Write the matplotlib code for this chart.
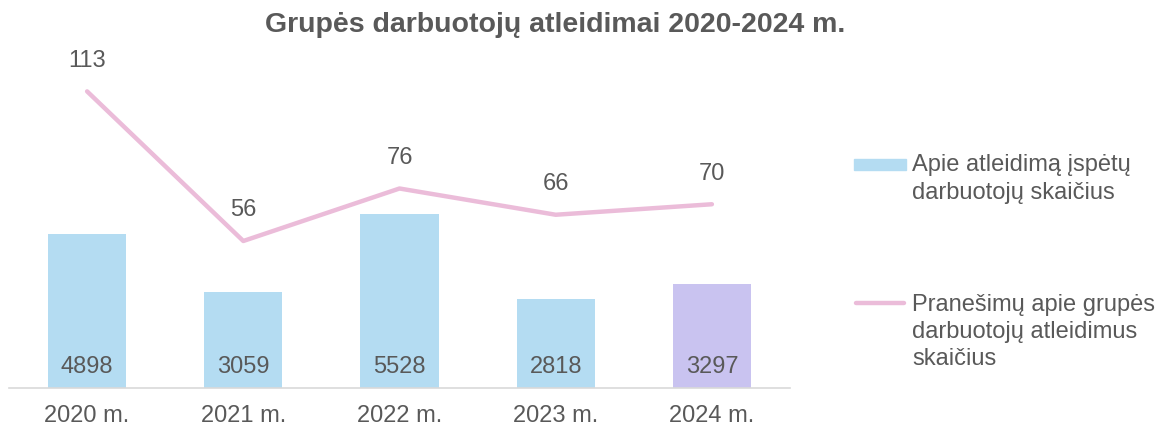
import matplotlib
matplotlib.use("Agg")
import matplotlib.pyplot as plt
from matplotlib.patches import Rectangle
from matplotlib.lines import Line2D

plt.rcParams['font.family'] = ['Liberation Sans', 'DejaVu Sans']

years = ["2020 m.", "2021 m.", "2022 m.", "2023 m.", "2024 m."]
warned_employees = [4898, 3059, 5528, 2818, 3297]
notices = [113, 56, 76, 66, 70]

bar_label = "Apie atleidimą įspėtų\ndarbuotojų skaičius"
line_label = "Pranešimų apie grupės\ndarbuotojų atleidimus\nskaičius"
title = "Grupės darbuotojų atleidimai 2020-2024 m."

text_color = "#595959"
bar_colors = ["#B4DCF2", "#B4DCF2", "#B4DCF2", "#B4DCF2", "#C9C3F0"]
line_color = "#EBBCD9"
fs = 17

W, H = 1173, 430
fig = plt.figure(figsize=(W / 100, H / 100), dpi=100)
ax = fig.add_axes([9 / W, (H - 388) / H, (790 - 9) / W, (388 - 73) / H])
ax2 = ax.twinx()

x = list(range(len(years)))
ax.bar(x, warned_employees, width=0.5, color=bar_colors, zorder=2)
ax.set_xlim(-0.5, len(years) - 0.5)
ax.set_ylim(0, 10000)
for xi, v in zip(x, warned_employees):
    ax.annotate(str(v), (xi, 0), xytext=(0, 15), textcoords="offset points",
                ha="center", va="center", fontsize=fs, color=text_color)

ax2.plot(x, notices, color=line_color, linewidth=3.2, solid_capstyle="round",
         solid_joinstyle="round", zorder=3)
ax2.set_ylim(0, 120)
for xi, v in zip(x, notices):
    ax2.annotate(str(v), (xi, v), xytext=(0, 22), textcoords="offset points",
                 ha="center", va="center", fontsize=fs, color=text_color)

for a in (ax, ax2):
    for s in a.spines.values():
        s.set_visible(False)
    a.set_yticks([])
ax.spines["bottom"].set_visible(True)
ax.spines["bottom"].set_color("#D9D9D9")
ax.spines["bottom"].set_linewidth(1.2)
ax.set_xticks(x)
ax.set_xticklabels(years, fontsize=fs, color=text_color)
ax.tick_params(axis="x", length=0, pad=12)

fig.text(555 / W, (H - 25) / H, title, ha="center", va="center",
         fontsize=20.5, fontweight="bold", color=text_color)

# legend entries
fig.add_artist(Rectangle((854 / W, (H - 170) / H), 52 / W, 11 / H,
                         transform=fig.transFigure, color=bar_colors[0]))
fig.text(912 / W, (H - 179) / H, bar_label, ha="left", va="center",
         fontsize=fs, color=text_color, linespacing=1.38)
fig.add_artist(Line2D([856 / W, 904 / W], [(H - 303) / H] * 2,
                      transform=fig.transFigure, color=line_color,
                      linewidth=3.2, solid_capstyle="round"))
fig.text(912 / W, (H - 332) / H, line_label, ha="left", va="center",
         fontsize=fs, color=text_color, linespacing=1.28)

fig.savefig("out.png", dpi=100)
